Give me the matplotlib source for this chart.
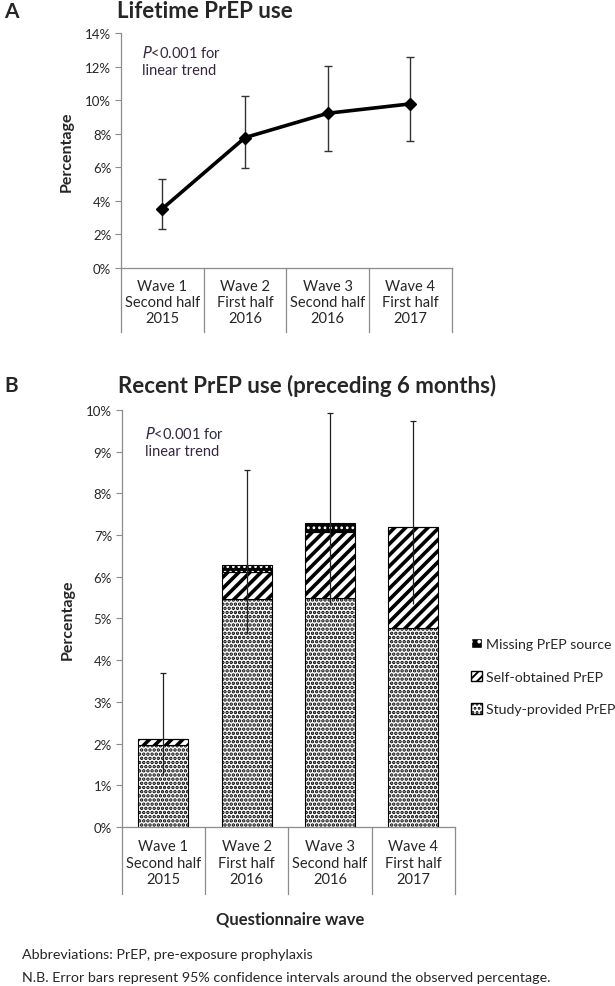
import numpy as np
import matplotlib
matplotlib.use("Agg")
import matplotlib.pyplot as plt
import matplotlib.transforms as mtransforms
from matplotlib.patches import Patch

plt.rcParams["font.family"] = ["Lato", "DejaVu Sans"]

# ====================== DATA ======================

waves = [
    "Wave 1\nSecond half\n2015",
    "Wave 2\nFirst half\n2016",
    "Wave 3\nSecond half\n2016",
    "Wave 4\nFirst half\n2017",
]

# panel A: lifetime PrEP use (%)
lifetime = [3.53, 7.77, 9.22, 9.78]
lifetime_lo = [2.30, 5.94, 6.98, 7.56]
lifetime_hi = [5.33, 10.26, 12.05, 12.55]

# panel B: recent PrEP use (%) by source
study_provided = [1.97, 5.46, 5.50, 4.78]
self_obtained = [0.15, 0.65, 1.58, 2.42]
missing_source = [0.0, 0.18, 0.20, 0.0]
recent_lo = [1.25, 4.63, 5.35, 5.35]
recent_hi = [3.69, 8.56, 9.93, 9.74]

yticks_a = [0, 2, 4, 6, 8, 10, 12, 14]
yticks_b = [0, 1, 2, 3, 4, 5, 6, 7, 8, 9, 10]

# ====================== STYLE HELPERS ======================

GRID = "#8c8c8c"
TXT = "#262626"


def style_axis(ax, yticks, ymax, box_depth, label_pad):
    x = np.arange(len(waves))
    ax.set_xlim(-0.5, len(waves) - 0.5)
    ax.set_ylim(0, ymax)
    ax.set_yticks(yticks)
    ax.set_yticklabels([f"{v}%" for v in yticks], fontsize=9.5, color=TXT)
    ax.set_xticks(x)
    ax.set_xticklabels(waves, fontsize=10.5, color=TXT)
    for lab in ax.get_xticklabels():
        lab.set_linespacing(1.2)
    ax.tick_params(axis="x", length=0, pad=label_pad)
    ax.tick_params(axis="y", length=4, width=0.8, color=GRID, pad=3)
    for side in ["top", "right"]:
        ax.spines[side].set_visible(False)
    for side in ["left", "bottom"]:
        ax.spines[side].set_color(GRID)
        ax.spines[side].set_linewidth(0.9)

    # category boxes below the axis
    trans = mtransforms.blended_transform_factory(ax.transData, ax.transAxes)
    for b in np.arange(-0.5, len(waves), 1.0):
        ax.plot([b, b], [0, -box_depth], color=GRID, lw=0.9,
                transform=trans, clip_on=False)
    ax.set_ylabel("Percentage", fontsize=11.5, fontweight="bold", color=TXT,
                  labelpad=8)


def hatched_bars(ax, x, h, bottom, hatch, hw, **kw):
    plt.rcParams["hatch.linewidth"] = hw
    bars = ax.bar(x, h, bottom=bottom, hatch=hatch, **kw)
    for p in bars:
        if hasattr(p, "set_hatch_linewidth"):
            p.set_hatch_linewidth(hw)
    return bars


# ====================== FIGURE ======================

fig = plt.figure(figsize=(6.15, 9.87), dpi=100, facecolor="white")

axA = fig.add_axes([0.1967, 0.7275, 0.538, 0.238])
axB = fig.add_axes([0.198, 0.1611, 0.5415, 0.4225])

# ---- Panel A ----
x = np.arange(len(waves))
yerr_a = [np.array(lifetime) - np.array(lifetime_lo),
          np.array(lifetime_hi) - np.array(lifetime)]
axA.errorbar(x, lifetime, yerr=yerr_a, fmt="none", ecolor="#333333",
             elinewidth=1.0, capsize=3.2, capthick=1.0, zorder=2)
axA.plot(x, lifetime, color="black", lw=2.6, marker="D", markersize=6,
         zorder=3)
style_axis(axA, yticks_a, 14, 0.272, 8)
axA.text(0.065, 0.955, r"$\it{P}$<0.001 for" + "\nlinear trend",
         transform=axA.transAxes, fontsize=10.5, color="#33283f",
         va="top", ha="left", linespacing=1.3)

# ---- Panel B ----
bw = 0.6
hatched_bars(axB, x, study_provided, 0, "....", 1.7, width=bw,
             color="white", edgecolor="black", linewidth=0.8, zorder=2)
hatched_bars(axB, x, self_obtained, study_provided, "///", 2.6, width=bw,
             color="white", edgecolor="black", linewidth=0.8, zorder=2)
bottom_missing = np.array(study_provided) + np.array(self_obtained)
hatched_bars(axB, x, missing_source, bottom_missing, "...", 1.2, width=bw,
             color="black", edgecolor="white", linewidth=0, zorder=2)
axB.bar(x, missing_source, width=bw, bottom=bottom_missing, fill=False,
        edgecolor="black", linewidth=0.8, zorder=2.1)

axB.vlines(x, recent_lo, recent_hi, color="#222222", lw=0.9, zorder=3)
axB.hlines(recent_hi, x - 0.035, x + 0.035, color="#222222", lw=0.9,
           zorder=3)

style_axis(axB, yticks_b, 10, 0.161, 9)
axB.text(0.07, 0.965, r"$\it{P}$<0.001 for" + "\nlinear trend",
         transform=axB.transAxes, fontsize=10.5, color="#33283f",
         va="top", ha="left", linespacing=1.3)

# legend
plt.rcParams["hatch.linewidth"] = 1.4
h_miss = Patch(facecolor="black", edgecolor="white", hatch="..",
               label="Missing PrEP source")
h_self = Patch(facecolor="white", edgecolor="black", hatch="////",
               label="Self-obtained PrEP")
h_study = Patch(facecolor="white", edgecolor="black", hatch="....",
                label="Study-provided PrEP")
fig.legend(handles=[h_miss, h_self, h_study], loc="upper left",
           bbox_to_anchor=(471 / 615, 1 - 639 / 987), frameon=False,
           fontsize=10.2, handlelength=0.75, handleheight=0.75,
           handletextpad=0.3, labelspacing=1.45, borderaxespad=0,
           borderpad=0, labelcolor=TXT)

# titles
fig.text(4 / 615, 1 - 12 / 987, "A", fontsize=15, fontweight="bold",
         va="center", ha="left", color=TXT)
fig.text(205 / 615, 1 - 12 / 987, "Lifetime PrEP use", fontsize=16,
         fontweight="bold", va="center", ha="center", color=TXT)
fig.text(4 / 615, 1 - 386 / 987, "B", fontsize=15, fontweight="bold",
         va="center", ha="left", color=TXT)
fig.text(307 / 615, 1 - 386 / 987, "Recent PrEP use (preceding 6 months)",
         fontsize=16, fontweight="bold", va="center", ha="center", color=TXT)

fig.text(290 / 615, 1 - 920 / 987, "Questionnaire wave", fontsize=12,
         fontweight="bold", va="center", ha="center", color=TXT)

fig.text(22 / 615, 1 - 955 / 987,
         "Abbreviations: PrEP, pre-exposure prophylaxis",
         fontsize=10.3, va="center", ha="left", color=TXT)
fig.text(22 / 615, 1 - 978 / 987,
         "N.B. Error bars represent 95% confidence intervals around the "
         "observed percentage.",
         fontsize=10.3, va="center", ha="left", color=TXT)

fig.savefig("out.png", dpi=100, facecolor="white")
